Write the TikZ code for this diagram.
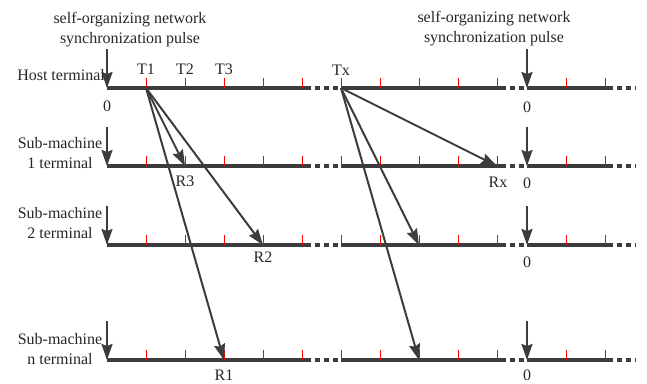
\documentclass[tikz,border=0pt]{standalone}
\usepackage{fontspec}
\setmainfont{Liberation Serif}
\usetikzlibrary{arrows.meta,positioning}
\definecolor{linegray}{HTML}{3C3C3C}
\tikzset{
  timeline/.style={draw=linegray, line width=3.2pt},
  gapline/.style={draw=linegray, line width=3.2pt, dash pattern=on 5pt off 4pt},
  redtick/.style={draw=red, line width=1pt},
  pulse/.style={draw=linegray, line width=2pt, -{Stealth[length=16pt,width=11pt,inset=2pt]}},
  msg/.style={draw=linegray, line width=2pt, -{Stealth[length=16pt,width=11pt,inset=2pt]}},
  lbl/.style={font=\fontsize{16}{20}\selectfont, text=black!85, inner sep=0pt, align=center},
}
\begin{document}
\begin{tikzpicture}[x=1pt,y=-1pt]
  \useasboundingbox (0,0) rectangle (647,383);

  % Time lines of the four terminals
  \foreach \r/\y in {h/88,a/166,b/245,n/360}{
    \draw[timeline] (107,\y) -- (306,\y);
    \draw[gapline] (306,\y) -- (341,\y);
    \draw[timeline] (341,\y) -- (501,\y);
    \draw[gapline] (501,\y) -- (527,\y);
    \draw[timeline] (527,\y) -- (608,\y);
    \draw[gapline] (608,\y) -- (636,\y);
    % slots
    \foreach \x [count=\i from 0] in {107,146,185,224,263,302,341,380,419,458,497,527,566,605}{
      \coordinate (\r-\i) at (\x,\y);
      \draw[redtick] (\r-\i) -- ++(0,-10);
    }
    % pulse tops
    \coordinate (\r-p) at (107,\y-39);
    \coordinate (\r-q) at (527,\y-39);
  }

  % Synchronization pulses
  \foreach \r in {h,a,b,n}{
    \draw[pulse] (\r-p) -- (\r-0);
    \draw[pulse] (\r-q) -- (\r-11);
  }

  % Messages sent in slot T1
  \draw[msg] (h-1) -- (a-2);
  \draw[msg] (h-1) -- (b-4);
  \draw[msg] (h-1) -- (n-3);

  % Messages sent in slot Tx
  \draw[msg] (h-6) -- (a-10);
  \draw[msg] (h-6) -- (b-8);
  \draw[msg] (h-6) -- (n-8);

  % Labels
  \node[lbl] (sync1) at (130,30) {self-organizing network\\synchronization pulse};
  \node[lbl] (sync2) at (494,29) {self-organizing network\\synchronization pulse};
  \node[lbl, anchor=east] (host) at (105,75) {Host terminal};
  \node[lbl] (sub1) at (60,153) {Sub-machine\\1 terminal};
  \node[lbl] (sub2) at (60,223) {Sub-machine\\2 terminal};
  \node[lbl] (subn) at (60,349) {Sub-machine\\n terminal};

  \node[lbl] (t1) at (146,69) {T1};
  \node[lbl] (t2) at (185,69) {T2};
  \node[lbl] (t3) at (224,69) {T3};
  \node[lbl] (tx) at (341,70) {Tx};
  \node[lbl] (r3) at (185,181) {R3};
  \node[lbl] (rx) at (498,182) {Rx};
  \node[lbl] (r2) at (263,257) {R2};
  \node[lbl] (r1) at (224,375) {R1};

  \node[lbl] (z1) at (107,106) {0};
  \node[lbl] (z2) at (527,107) {0};
  \node[lbl] (z3) at (527,183) {0};
  \node[lbl] (z4) at (527,262) {0};
  \node[lbl] (z5) at (527,375) {0};
\end{tikzpicture}
\end{document}
